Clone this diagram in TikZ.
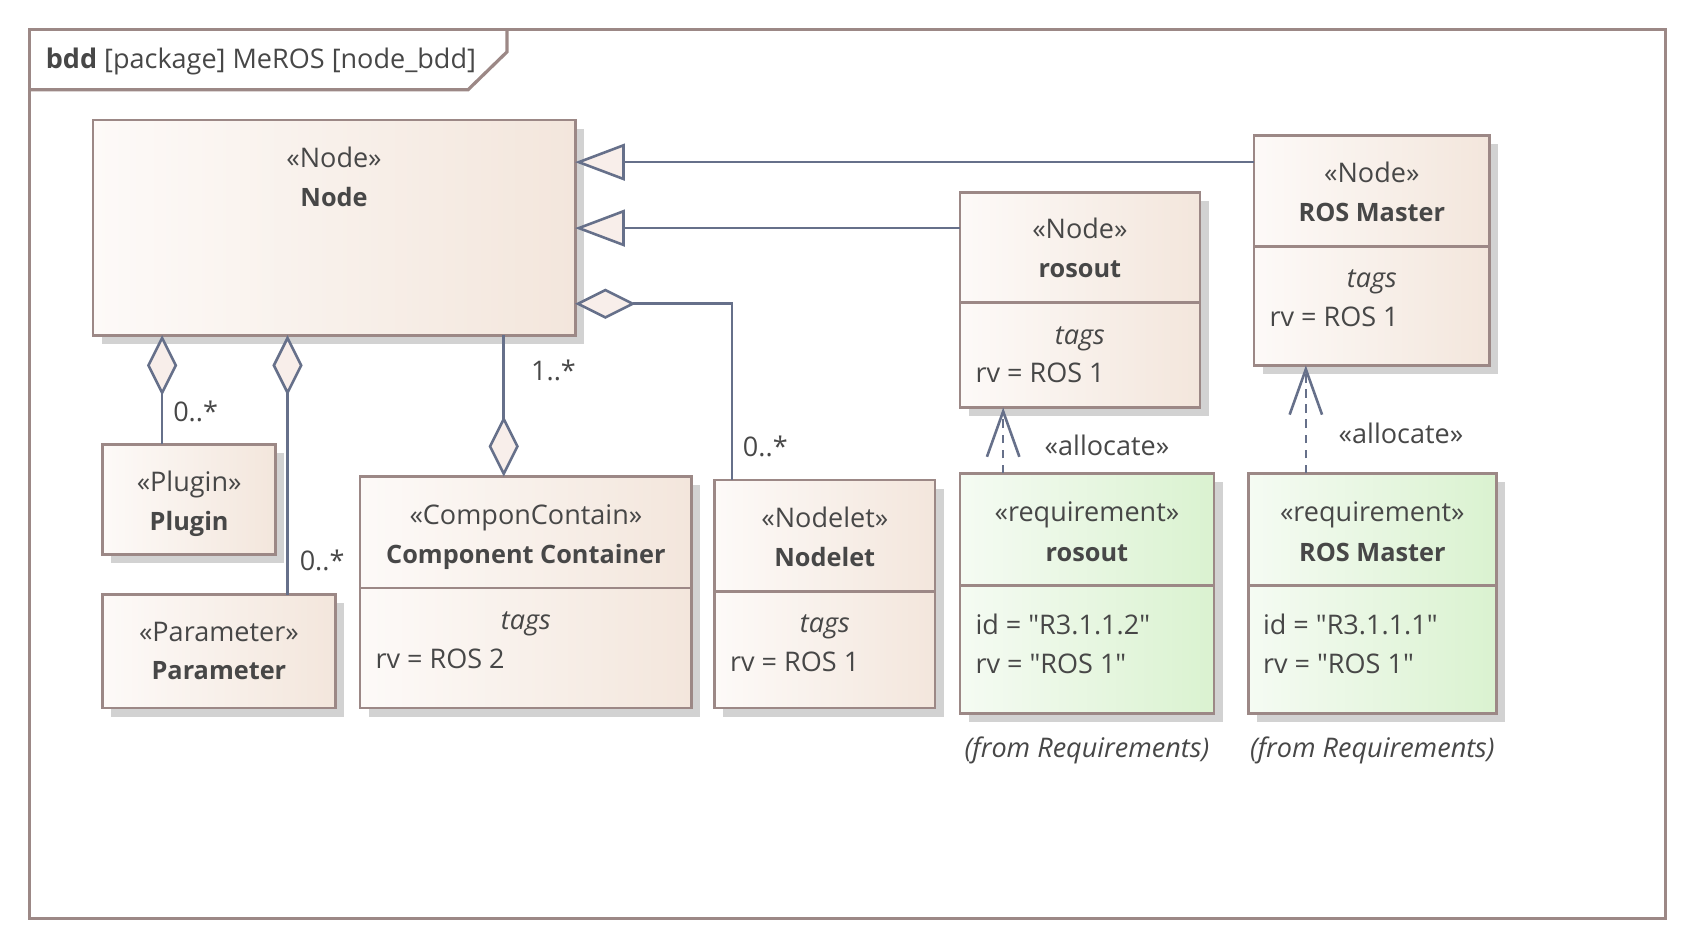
\documentclass[tikz,border=0pt]{standalone}
\usepackage{fontspec}
\setmainfont{Open Sans}
\usepackage{xcolor}
\usetikzlibrary{arrows.meta, calc, positioning, shadows}
\definecolor{txtgray}{HTML}{474747}
\definecolor{bordercol}{HTML}{9C8886}
\definecolor{linecol}{HTML}{66708A}
\definecolor{shadowcol}{HTML}{D2D2D2}
\definecolor{nodeL}{HTML}{FDFAF8}
\definecolor{nodeR}{HTML}{F3E6DC}
\definecolor{reqL}{HTML}{F5FBF3}
\definecolor{reqR}{HTML}{DAF2D0}
\definecolor{tipfill}{HTML}{F8EEEA}
\newcommand{\nm}[1]{{\fontsize{11.7}{14}\selectfont\bfseries #1}}
\newcommand{\qt}{\textquotedbl}
\tikzset{MeROS/.style={
    x=1pt, y=-1pt,
    every node/.style={text=txtgray, font=\fontsize{12.5}{15}\selectfont},
    boxbase/.style = {draw=bordercol, line width=1.3pt, anchor=north west, outer sep=0pt, inner sep=0pt,
        drop shadow={shadow xshift=4pt, shadow yshift=-4pt, fill=shadowcol, opacity=1}},
    block/.style = {boxbase, left color=nodeL, right color=nodeR},
    reqblock/.style = {boxbase, left color=reqL, right color=reqR},
    divider/.style = {draw=bordercol, line width=1.3pt},
    txt/.style = {anchor=base, inner sep=0pt},
    attr/.style = {anchor=base west, inner sep=0pt},
    gen/.style = {draw=linecol, line width=1.2pt, -{Triangle[fill=tipfill, length=23pt, width=17pt]}},
    agg/.style = {draw=linecol, line width=1.2pt, -{Diamond[fill=tipfill, length=28pt, width=14pt]}},
    alloc/.style = {draw=linecol, line width=1.2pt, dash pattern=on 4pt off 3pt, -{Straight Barb[length=21pt, width=15pt]}}
}}
\begin{document}
\begin{tikzpicture}[MeROS]
    \useasboundingbox (0,0) rectangle (784,438.5);
    % frame and its name tab
    \draw[bordercol, line width=1.5pt] (13.5,13.5) rectangle (770.5,425);
    \draw[bordercol, line width=1.5pt] (234.5,13.5) -- (234.5,24) -- (216.5,41.5) -- (13.5,41.5);
    \node[attr] (title) at (21,31.5) {\textbf{bdd} [package] MeROS [node\_bdd]};

    % blocks
    \node[block, minimum width=223pt, minimum height=99.5pt] (nodeblk) at (43,55.5) {};
    \node[txt] (nodeblk-st) at (154.5,77.5) {«Node»};
    \node[txt] (nodeblk-nm) at (154.5,95.5) {\nm{Node}};

    \node[block, minimum width=80pt, minimum height=51pt] (plugin) at (47.5,205.5) {};
    \node[txt] (plugin-st) at (87.5,227.5) {«Plugin»};
    \node[txt] (plugin-nm) at (87.5,245.5) {\nm{Plugin}};

    \node[block, minimum width=107.5pt, minimum height=52.5pt] (param) at (47.5,275) {};
    \node[txt] (param-st) at (101.25,296.5) {«Parameter»};
    \node[txt] (param-nm) at (101.25,314.5) {\nm{Parameter}};

    \node[block, minimum width=153.5pt, minimum height=107pt] (compcont) at (166.5,220.5) {};
    \draw[divider] (compcont.west |- 0,272) -- (compcont.east |- 0,272);
    \node[txt] (compcont-st) at (243.25,242.5) {«ComponContain»};
    \node[txt] (compcont-nm) at (243.25,260.5) {\nm{Component Container}};
    \node[txt] (compcont-tg) at (243.25,291) {\textit{tags}};
    \node[attr] (compcont-rv) at (173.5,309) {rv = ROS 2};

    \node[block, minimum width=102pt, minimum height=105.5pt] (nodelet) at (330.5,222) {};
    \draw[divider] (nodelet.west |- 0,273.5) -- (nodelet.east |- 0,273.5);
    \node[txt] (nodelet-st) at (381.5,244) {«Nodelet»};
    \node[txt] (nodelet-nm) at (381.5,262) {\nm{Nodelet}};
    \node[txt] (nodelet-tg) at (381.5,292.5) {\textit{tags}};
    \node[attr] (nodelet-rv) at (337.5,310.5) {rv = ROS 1};

    \node[block, minimum width=111pt, minimum height=99.5pt] (rosout) at (444,89) {};
    \draw[divider] (rosout.west |- 0,140) -- (rosout.east |- 0,140);
    \node[txt] (rosout-st) at (499.5,110.5) {«Node»};
    \node[txt] (rosout-nm) at (499.5,128.5) {\nm{rosout}};
    \node[txt] (rosout-tg) at (499.5,159.5) {\textit{tags}};
    \node[attr] (rosout-rv) at (451,177) {rv = ROS 1};

    \node[block, minimum width=109pt, minimum height=106.5pt] (rosmaster) at (580,62.5) {};
    \draw[divider] (rosmaster.west |- 0,114) -- (rosmaster.east |- 0,114);
    \node[txt] (rosmaster-st) at (634.5,84.5) {«Node»};
    \node[txt] (rosmaster-nm) at (634.5,102.5) {\nm{ROS Master}};
    \node[txt] (rosmaster-tg) at (634.5,133) {\textit{tags}};
    \node[attr] (rosmaster-rv) at (587,151) {rv = ROS 1};

    % requirements
    \node[reqblock, minimum width=117.5pt, minimum height=111pt] (reqrosout) at (444,219) {};
    \draw[divider] (reqrosout.west |- 0,271) -- (reqrosout.east |- 0,271);
    \node[txt] (reqrosout-st) at (502.75,241) {«requirement»};
    \node[txt] (reqrosout-nm) at (502.75,259.5) {\nm{rosout}};
    \node[attr] (reqrosout-id) at (451,293.5) {id = \qt R3.1.1.2\qt};
    \node[attr] (reqrosout-rv) at (451,311.5) {rv = \qt ROS 1\qt};
    \node[txt] (reqrosout-fr) at (502.75,350.5) {\textit{(from Requirements)}};

    \node[reqblock, minimum width=114.5pt, minimum height=111pt] (reqmaster) at (577.5,219) {};
    \draw[divider] (reqmaster.west |- 0,271) -- (reqmaster.east |- 0,271);
    \node[txt] (reqmaster-st) at (634.75,241) {«requirement»};
    \node[txt] (reqmaster-nm) at (634.75,259.5) {\nm{ROS Master}};
    \node[attr] (reqmaster-id) at (584,293.5) {id = \qt R3.1.1.1\qt};
    \node[attr] (reqmaster-rv) at (584,311.5) {rv = \qt ROS 1\qt};
    \node[txt] (reqmaster-fr) at (634.75,350.5) {\textit{(from Requirements)}};

    % connectors
    \draw[gen] (rosmaster.west |- 0,75) -- (nodeblk.east |- 0,75);
    \draw[gen] (rosout.west |- 0,105.5) -- (nodeblk.east |- 0,105.5);
    \draw[agg] (nodelet.north -| 338.5,0) |- (nodeblk.east |- 0,140.5);
    \draw[agg] (plugin.north -| 75,0) -- (nodeblk.south -| 75,0);
    \draw[agg] (param.north -| 133,0) -- (nodeblk.south -| 133,0);
    \draw[agg] (nodeblk.south -| 233,0) -- (compcont.north -| 233,0);
    \draw[alloc] (reqrosout.north -| 464,0) -- (rosout.south -| 464,0);
    \draw[alloc] (reqmaster.north -| 604,0) -- (rosmaster.south -| 604,0);

    % multiplicities and stereotypes
    \node[txt] (m-plugin) at (90.5,195) {0..*};
    \node[txt] (m-param) at (149,264) {0..*};
    \node[txt] (m-compcont) at (256,176) {1..*};
    \node[txt] (m-nodelet) at (354,211) {0..*};
    \node[txt] (a-rosout) at (512,210.5) {«allocate»};
    \node[txt] (a-rosmaster) at (648,205) {«allocate»};
\end{tikzpicture}
\end{document}
